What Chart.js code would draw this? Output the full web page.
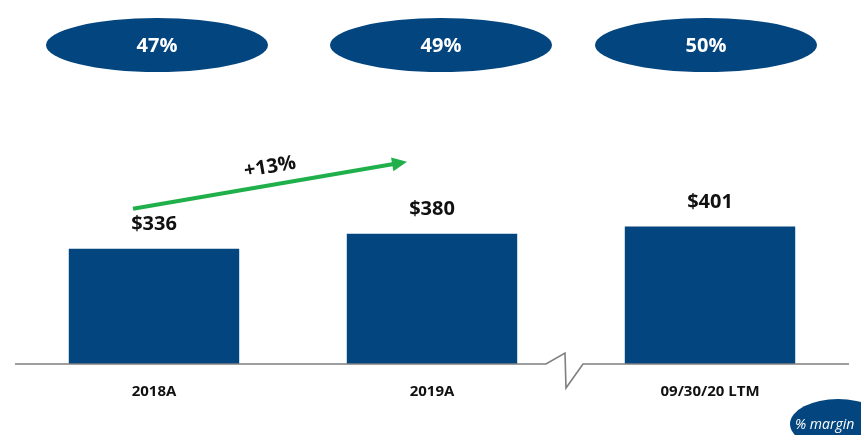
<!DOCTYPE html>
<html>
<head>
<meta charset="utf-8">
<script src="https://cdn.jsdelivr.net/npm/chart.js@4.4.1/dist/chart.umd.min.js"></script>
<style>
  html, body { margin: 0; padding: 0; background: #fff; }
  #wrap { width: 861px; height: 435px; }
</style>
</head>
<body>
<div id="wrap"><canvas id="ebitdaChart" width="861" height="435"></canvas></div>
<script>
const categories = ['2018A', '2019A', '09/30/20 LTM'];
const values = [336, 380, 401];
const valueLabels = ['$336', '$380', '$401'];
const margins = ['47%', '49%', '50%'];
const growthLabel = '+13%';

const navy = '#03457f';
const green = '#20b04b';
const axisGray = '#7f7f7f';
const fontFamily = '"Open Sans", Lato, sans-serif';

// draws the broken baseline, margin ovals, value labels and growth arrow
const decorations = {
    id: 'decorations',
    afterDatasetsDraw(chart) {
        const { ctx, chartArea, scales } = chart;
        const meta = chart.getDatasetMeta(0);
        const xs = meta.data.map(b => b.x);
        const base = scales.y.getPixelForValue(0);

        // baseline with a break between the 2nd and 3rd bar
        const bx = (xs[1] + xs[2]) / 2;
        ctx.save();
        ctx.strokeStyle = axisGray;
        ctx.lineWidth = 1.6;
        ctx.beginPath();
        ctx.moveTo(chartArea.left, base);
        ctx.lineTo(bx - 25, base);
        ctx.lineTo(bx - 6, base - 11);
        ctx.lineTo(bx - 5, base + 24);
        ctx.lineTo(bx + 12, base);
        ctx.lineTo(chartArea.right, base);
        ctx.stroke();
        ctx.restore();

        // value labels above bars
        ctx.save();
        ctx.fillStyle = '#111';
        ctx.font = 'bold 20px ' + fontFamily;
        ctx.textAlign = 'center';
        ctx.textBaseline = 'middle';
        meta.data.forEach((bar, i) => {
            ctx.fillText(valueLabels[i], bar.x, bar.y - 24);
        });
        ctx.restore();

        // margin ovals on top
        ctx.save();
        const offs = [3, 9, -4];
        xs.forEach((x, i) => {
            ctx.fillStyle = navy;
            ctx.beginPath();
            ctx.ellipse(x + offs[i], 45, 111, 27, 0, 0, Math.PI * 2);
            ctx.fill();
            ctx.fillStyle = '#fff';
            ctx.font = 'bold 20px ' + fontFamily;
            ctx.textAlign = 'center';
            ctx.textBaseline = 'middle';
            ctx.fillText(margins[i], x + offs[i], 46);
        });
        ctx.restore();

        // growth arrow from first to second bar
        const y1 = meta.data[0].y;
        const x0 = xs[0] - 21, yA = y1 - 40;
        const x1 = xs[1] - 25, yB = y1 - 87;
        const ang = Math.atan2(yB - yA, x1 - x0);
        ctx.save();
        ctx.strokeStyle = green;
        ctx.fillStyle = green;
        ctx.lineWidth = 4;
        ctx.beginPath();
        ctx.moveTo(x0, yA);
        ctx.lineTo(x1 - 12 * Math.cos(ang), yB - 12 * Math.sin(ang));
        ctx.stroke();
        ctx.translate(x1, yB);
        ctx.rotate(ang);
        ctx.beginPath();
        ctx.moveTo(0, 0);
        ctx.lineTo(-15, -7);
        ctx.lineTo(-15, 7);
        ctx.closePath();
        ctx.fill();
        ctx.restore();

        ctx.save();
        ctx.translate((x0 + x1) / 2, (yA + yB) / 2 - 18);
        ctx.rotate(ang);
        ctx.fillStyle = '#111';
        ctx.font = 'bold 20px ' + fontFamily;
        ctx.textAlign = 'center';
        ctx.textBaseline = 'middle';
        ctx.fillText(growthLabel, 0, 0);
        ctx.restore();

        // "% margin" legend oval, bottom right
        ctx.save();
        ctx.fillStyle = navy;
        ctx.beginPath();
        ctx.ellipse(838, 424, 48, 25, 0, 0, Math.PI * 2);
        ctx.fill();
        ctx.fillStyle = '#fff';
        ctx.font = 'italic 14px ' + fontFamily;
        ctx.textAlign = 'left';
        ctx.textBaseline = 'middle';
        ctx.fillText('% margin', 795, 425);
        ctx.restore();
    }
};

const ctx = document.getElementById('ebitdaChart').getContext('2d');
const chart = new Chart(ctx, {
    type: 'bar',
    data: {
        labels: categories,
        datasets: [{
            data: values,
            backgroundColor: navy,
            barPercentage: 0.613,
            categoryPercentage: 1
        }]
    },
    options: {
        responsive: false,
        animation: false,
        layout: { padding: { left: 15, right: 12, top: 21, bottom: 15 } },
        plugins: {
            legend: { display: false },
            tooltip: { enabled: false }
        },
        scales: {
            x: {
                grid: { display: false, drawTicks: false },
                border: { display: false },
                ticks: {
                    color: '#111',
                    padding: 19,
                    font: { family: fontFamily, size: 15, weight: 'bold' }
                }
            },
            y: {
                display: false,
                min: 0,
                max: 1000
            }
        }
    },
    plugins: [decorations]
});
</script>
</body>
</html>
